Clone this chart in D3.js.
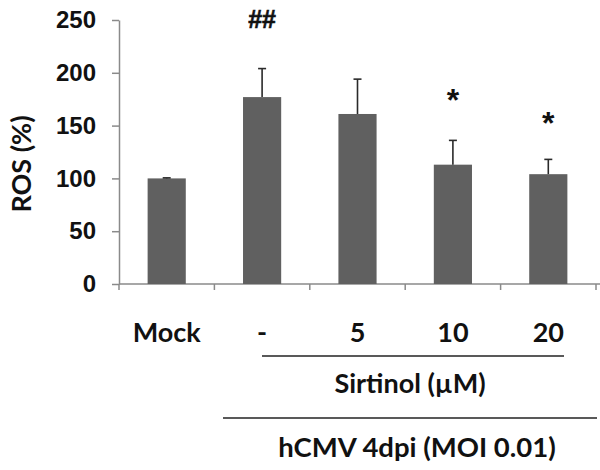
<!DOCTYPE html>
<html>
<head>
<meta charset="utf-8">
<script src="https://cdn.jsdelivr.net/npm/d3@7"></script>
<style>
  html, body { margin: 0; padding: 0; background: #fff; }
  svg { display: block; }
</style>
</head>
<body>
<svg id="chart" width="600" height="470"></svg>
<script>
// ---- data ----
const categories = ["Mock", "-", "5", "10", "20"];
const rosValues = [100, 177, 161, 113, 104];
const rosErrors = [0.5, 27, 33, 23, 14];
const annotations = ["", "##", "", "*", "*"];
const annotationLevels = [null, 242, null, 164, 142];
const yTicks = [0, 50, 100, 150, 200, 250];
const yLabel = "ROS (%)";
const groupLabel1 = "Sirtinol (\u00B5M)";
const groupLabel2 = "hCMV 4dpi (MOI 0.01)";

// ---- layout ----
const svg = d3.select("#chart");
const plotLeft = 119, plotRight = 596, plotTop = 20, plotBottom = 284;
const labelFont = "Lato, 'Open Sans', sans-serif";
const tickFont = "'Liberation Sans', Arial, sans-serif";

const x = d3.scaleBand().domain(categories).range([plotLeft, plotRight])
  .paddingInner(0.6).paddingOuter(0.3);
const y = d3.scaleLinear().domain([0, 250]).range([plotBottom, plotTop]);

// y axis
const yAxis = svg.append("g")
  .attr("transform", `translate(${plotLeft},0)`)
  .call(d3.axisLeft(y).tickValues(yTicks).tickSize(7).tickSizeOuter(0).tickPadding(16));
yAxis.select(".domain").attr("stroke", "#8a8a8a").attr("stroke-width", 1.5);
yAxis.selectAll(".tick line").attr("stroke", "#8a8a8a").attr("stroke-width", 1.5);
yAxis.selectAll(".tick text")
  .attr("font-family", tickFont).attr("font-weight", "bold")
  .attr("font-size", 24).attr("fill", "#111");

// x axis line with boundary ticks
svg.append("line")
  .attr("x1", plotLeft).attr("x2", 600).attr("y1", plotBottom).attr("y2", plotBottom)
  .attr("stroke", "#8a8a8a").attr("stroke-width", 1.5);
const boundaries = d3.range(categories.length + 1).map(i => plotLeft + i * x.step());
svg.append("g").selectAll("line").data(boundaries).join("line")
  .attr("x1", d => d).attr("x2", d => d)
  .attr("y1", plotBottom).attr("y2", plotBottom + 6)
  .attr("stroke", "#8a8a8a").attr("stroke-width", 1.5);

// bars
svg.append("g").selectAll("rect").data(rosValues).join("rect")
  .attr("x", (d, i) => x(categories[i]))
  .attr("y", d => y(d))
  .attr("width", x.bandwidth())
  .attr("height", d => y(0) - y(d))
  .attr("fill", "#606060");

// error bars
const eb = svg.append("g").attr("stroke", "#2a2a2a").attr("stroke-width", 1.6);
rosValues.forEach((v, i) => {
  const cx = x(categories[i]) + x.bandwidth() / 2;
  eb.append("line").attr("x1", cx).attr("x2", cx)
    .attr("y1", y(v)).attr("y2", y(v + rosErrors[i]));
  eb.append("line").attr("x1", cx - 4).attr("x2", cx + 4)
    .attr("y1", y(v + rosErrors[i])).attr("y2", y(v + rosErrors[i]));
});

// significance marks
annotations.forEach((a, i) => {
  if (!a) return;
  const cx = x(categories[i]) + x.bandwidth() / 2;
  svg.append("text")
    .attr("x", cx)
    .attr("y", y(annotationLevels[i]))
    .attr("text-anchor", "middle")
    .attr("font-family", tickFont).attr("font-weight", "bold")
    .attr("font-size", a === "*" ? 32 : 25)
    .attr("fill", "#111")
    .attr("stroke", "#111").attr("stroke-width", a === "*" ? 0 : 0.6)
    .text(a);
});

// category labels
svg.append("g").selectAll("text").data(categories).join("text")
  .attr("x", d => x(d) + x.bandwidth() / 2)
  .attr("y", 342)
  .attr("text-anchor", "middle")
  .attr("font-family", labelFont).attr("font-weight", "bold")
  .attr("font-size", 27).attr("fill", "#111")
  .text(d => d);

// group lines and labels
svg.append("line").attr("x1", 262).attr("x2", 564).attr("y1", 356).attr("y2", 356)
  .attr("stroke", "#222").attr("stroke-width", 1.3);
svg.append("text").attr("x", 410).attr("y", 393)
  .attr("text-anchor", "middle")
  .attr("font-family", labelFont).attr("font-weight", "bold")
  .attr("font-size", 27).attr("fill", "#111").text(groupLabel1);
svg.append("line").attr("x1", 223).attr("x2", 597).attr("y1", 418).attr("y2", 418)
  .attr("stroke", "#222").attr("stroke-width", 1.3);
svg.append("text").attr("x", 417).attr("y", 457)
  .attr("text-anchor", "middle")
  .attr("font-family", labelFont).attr("font-weight", "bold")
  .attr("font-size", 27.5).attr("fill", "#111").text(groupLabel2);

// y axis title
svg.append("text")
  .attr("transform", "translate(31,164) rotate(-90)")
  .attr("text-anchor", "middle")
  .attr("font-family", labelFont).attr("font-weight", "bold")
  .attr("font-size", 27).attr("fill", "#111").text(yLabel);
</script>
</body>
</html>
